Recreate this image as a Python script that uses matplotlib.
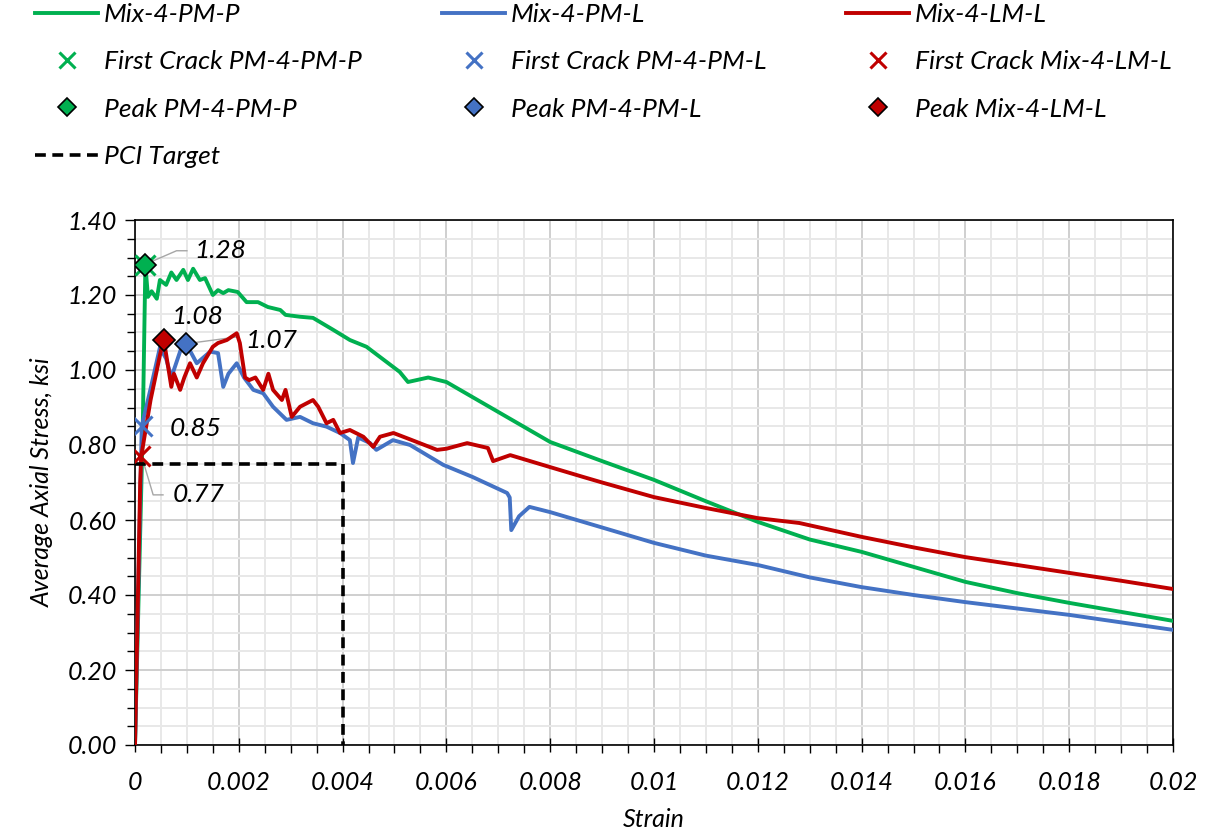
import matplotlib
matplotlib.use("Agg")
import matplotlib.pyplot as plt
from matplotlib.ticker import MultipleLocator, FuncFormatter

plt.rcParams['font.family'] = ['Lato', 'DejaVu Sans']
plt.rcParams['font.style'] = 'italic'
plt.rcParams['font.size'] = 18

# Mix-4-PM-P (green)
pmp_strain = [0, 0.00015, 0.0002, 0.00025, 0.00032, 0.00042, 0.00048, 0.0006, 0.0007, 0.0008,
              0.00093, 0.00102, 0.00112, 0.00125, 0.00135, 0.0015, 0.0016, 0.0017, 0.0018, 0.00198,
              0.00215, 0.00237, 0.00256, 0.0028, 0.0029, 0.00318, 0.00343, 0.00382, 0.00414, 0.00446,
              0.0051, 0.00526, 0.00565, 0.006, 0.007, 0.008, 0.009, 0.01, 0.011, 0.012,
              0.013, 0.014, 0.015, 0.016, 0.017, 0.018, 0.019, 0.02]
pmp_stress = [0, 0.85, 1.28, 1.195, 1.21, 1.19, 1.24, 1.227, 1.26, 1.24,
              1.267, 1.24, 1.27, 1.24, 1.245, 1.20, 1.213, 1.205, 1.213, 1.208,
              1.181, 1.181, 1.168, 1.16, 1.147, 1.142, 1.139, 1.107, 1.08, 1.062,
              0.995, 0.968, 0.98, 0.968, 0.888, 0.808, 0.757, 0.707, 0.65, 0.595,
              0.548, 0.515, 0.475, 0.435, 0.405, 0.379, 0.355, 0.331]

# Mix-4-PM-L (blue)
pml_strain = [0, 0.00013, 0.0003, 0.00048, 0.0006, 0.0007, 0.0009, 0.00098, 0.00119, 0.00145,
              0.0016, 0.0017, 0.0018, 0.00196, 0.0021, 0.00228, 0.00247, 0.00266, 0.00292, 0.00318,
              0.00343, 0.00369, 0.00395, 0.00414, 0.0042, 0.0043, 0.00453, 0.00465, 0.00497, 0.0053,
              0.00594, 0.0065, 0.00717, 0.00722, 0.00725, 0.0074, 0.0076, 0.008, 0.009, 0.01,
              0.011, 0.012, 0.013, 0.014, 0.015, 0.016, 0.017, 0.018, 0.019, 0.02]
pml_stress = [0, 0.85, 0.95, 1.06, 1.03, 0.98, 1.062, 1.072, 1.018, 1.049,
              1.045, 0.955, 0.99, 1.018, 0.98, 0.947, 0.938, 0.902, 0.867, 0.875,
              0.858, 0.849, 0.832, 0.813, 0.752, 0.82, 0.805, 0.787, 0.813, 0.80,
              0.747, 0.715, 0.672, 0.66, 0.573, 0.61, 0.635, 0.621, 0.58, 0.539,
              0.505, 0.48, 0.447, 0.421, 0.40, 0.381, 0.364, 0.347, 0.327, 0.307]

# Mix-4-LM-L (red)
lml_strain = [0, 0.0001, 0.00012, 0.0003, 0.00055, 0.0007, 0.00075, 0.00087, 0.00095, 0.00106,
              0.00119, 0.00131, 0.0015, 0.0016, 0.00177, 0.00196, 0.00202, 0.00212, 0.0022, 0.00232,
              0.00247, 0.00257, 0.00266, 0.00283, 0.0029, 0.00302, 0.00318, 0.00343, 0.00353, 0.00369,
              0.00382, 0.00395, 0.00414, 0.0044, 0.00459, 0.00472, 0.00498, 0.0053, 0.00582, 0.006,
              0.0064, 0.0068, 0.0069, 0.00723, 0.008, 0.00863, 0.009, 0.01, 0.011, 0.012,
              0.0128, 0.014, 0.015, 0.016, 0.017, 0.018, 0.019, 0.02]
lml_stress = [0, 0.70, 0.77, 0.92, 1.085, 0.955, 0.99, 0.947, 0.98, 1.018,
              0.98, 1.018, 1.062, 1.072, 1.08, 1.098, 1.072, 0.98, 0.973, 0.98,
              0.947, 0.99, 0.947, 0.92, 0.947, 0.875, 0.902, 0.92, 0.902, 0.858,
              0.867, 0.832, 0.84, 0.822, 0.795, 0.822, 0.832, 0.815, 0.787, 0.79,
              0.805, 0.792, 0.757, 0.773, 0.741, 0.715, 0.70, 0.661, 0.632, 0.605,
              0.592, 0.555, 0.527, 0.501, 0.48, 0.459, 0.438, 0.416]

# first crack and peak points (strain, stress)
crack_pts = {"PM-P": (0.0002, 1.28), "PM-L": (0.00013, 0.85), "LM-L": (0.0001, 0.77)}
peak_pts = {"PM-P": (0.0002, 1.28), "PM-L": (0.00098, 1.07), "LM-L": (0.00055, 1.08)}

# PCI target
pci_strain = [0, 0.004, 0.004]
pci_stress = [0.75, 0.75, 0]

green = "#00b050"
blue = "#4472c4"
red = "#c00000"
LW = 2.8
DASH = (0, (3.0, 1.8))

fig = plt.figure(figsize=(12.05, 8.32), dpi=100)
ax = fig.add_axes([135 / 1205, 1 - 745 / 832, 1038 / 1205, 525 / 832])

ax.plot(pmp_strain, pmp_stress, color=green, lw=LW, zorder=3)
ax.plot(pml_strain, pml_stress, color=blue, lw=LW, zorder=3)
ax.plot(lml_strain, lml_stress, color=red, lw=LW, zorder=3)
ax.plot(pci_strain, pci_stress, color="black", lw=2.6, ls=DASH, zorder=4)

xmk = dict(marker="x", ls="none", ms=14, mew=2.2, zorder=5)
dmk = dict(marker="D", ls="none", ms=11, mec="black", mew=1.2, zorder=6)
h_cg, = ax.plot(*crack_pts["PM-P"], color=green, **xmk)
h_cb, = ax.plot(*crack_pts["PM-L"], color=blue, **xmk)
h_cr, = ax.plot(*crack_pts["LM-L"], color=red, **xmk)
h_pg, = ax.plot(*peak_pts["PM-P"], color=green, **dmk)
h_pb, = ax.plot(*peak_pts["PM-L"], color=blue, **dmk)
h_pr, = ax.plot(*peak_pts["LM-L"], color=red, **dmk)

# data labels with leader lines
lead = dict(color="#a6a6a6", lw=1, zorder=2)
ax.plot([0.00025, 0.0008, 0.001], [1.285, 1.318, 1.318], **lead)
ax.text(0.00115, 1.318, "1.28", va="center", ha="left", fontsize=19)
ax.text(0.00119, 1.142, "1.08", va="center", ha="center", fontsize=19)
ax.plot([0.00098, 0.00196], [1.07, 1.088], **lead)
ax.text(0.00212, 1.08, "1.07", va="center", ha="left", fontsize=19)
ax.text(0.00067, 0.845, "0.85", va="center", ha="left", fontsize=19)
ax.plot([0.00013, 0.00035, 0.00054], [0.769, 0.667, 0.667], **lead)
ax.text(0.00073, 0.667, "0.77", va="center", ha="left", fontsize=19)

ax.set_xlim(0, 0.02)
ax.set_ylim(0, 1.4)
ax.xaxis.set_major_locator(MultipleLocator(0.002))
ax.xaxis.set_minor_locator(MultipleLocator(0.0005))
ax.yaxis.set_major_locator(MultipleLocator(0.2))
ax.yaxis.set_minor_locator(MultipleLocator(0.05))
ax.xaxis.set_major_formatter(FuncFormatter(lambda v, p: f"{v:g}"))
ax.yaxis.set_major_formatter(FuncFormatter(lambda v, p: f"{v:.2f}"))
ax.grid(which="major", color="#cfcfcf", lw=1.4, zorder=0)
ax.grid(which="minor", color="#e8e8e8", lw=1.4, zorder=0)
ax.set_axisbelow(True)
ax.tick_params(axis="x", which="major", direction="inout", length=10, width=1, pad=14)
ax.tick_params(axis="x", which="minor", direction="out", length=6, width=1)
ax.tick_params(axis="y", which="major", direction="out", length=7, width=1, pad=6)
ax.tick_params(axis="y", which="minor", direction="out", length=6, width=1)
for s in ax.spines.values():
    s.set_color("black")
    s.set_linewidth(1.2)

ax.set_xlabel("Strain", labelpad=10)
ax.set_ylabel("Average Axial Stress, ksi", labelpad=10)

h_g, = ax.plot([], [], color=green, lw=LW)
h_b, = ax.plot([], [], color=blue, lw=LW)
h_r, = ax.plot([], [], color=red, lw=LW)
h_pci, = ax.plot([], [], color="black", lw=2.6, ls=DASH)

leg_kw = dict(loc="upper left", frameon=False, borderpad=0, borderaxespad=0,
              handlelength=2.4, handletextpad=0.2, labelspacing=0.92,
              markerscale=0.8, fontsize=19)
top = 1 - 3 / 832
fig.legend([h_g, h_cg, h_pg, h_pci],
           ["Mix-4-PM-P", "First Crack PM-4-PM-P", "Peak PM-4-PM-P", "PCI Target"],
           bbox_to_anchor=(35 / 1205, top), **leg_kw)
fig.legend([h_b, h_cb, h_pb],
           ["Mix-4-PM-L", "First Crack PM-4-PM-L", "Peak PM-4-PM-L"],
           bbox_to_anchor=(442 / 1205, top), **leg_kw)
fig.legend([h_r, h_cr, h_pr],
           ["Mix-4-LM-L", "First Crack Mix-4-LM-L", "Peak Mix-4-LM-L"],
           bbox_to_anchor=(846 / 1205, top), **leg_kw)

fig.savefig("out.png", dpi=100)
